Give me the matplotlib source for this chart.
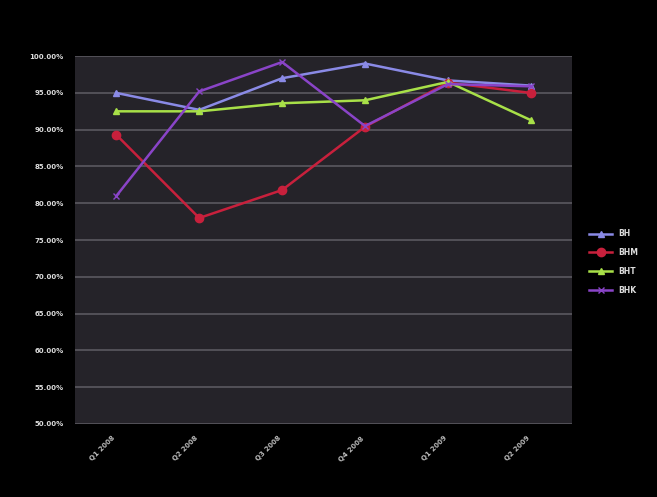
import matplotlib
matplotlib.use("Agg")
import matplotlib.pyplot as plt

categories = ["Q1 2008", "Q2 2008", "Q3 2008", "Q4 2008", "Q1 2009", "Q2 2009"]
series_names = ["BH", "BHM", "BHT", "BHK"]
s_bh = [95.0, 92.7, 97.0, 99.0, 96.7, 96.0]
s_bhm = [89.3, 78.0, 81.8, 90.4, 96.4, 95.0]
s_bht = [92.5, 92.5, 93.6, 94.0, 96.5, 91.3]
s_bhk = [81.0, 95.2, 99.2, 90.5, 96.2, 95.9]
y_ticks = [50, 55, 60, 65, 70, 75, 80, 85, 90, 95, 100]

colors = ["#8a8ae6", "#c8203c", "#a8e048", "#8a44c8"]
markers = ["^", "o", "^", "x"]
msizes = [4, 6, 5, 4]

fig = plt.figure(figsize=(6.57, 4.97), dpi=100, facecolor="black")
ax = fig.add_axes([0.114, 0.147, 0.757, 0.740])
ax.set_facecolor("#252329")

x = list(range(len(categories)))
for name, vals, c, m, ms in zip(series_names, [s_bh, s_bhm, s_bht, s_bhk], colors, markers, msizes):
    ax.plot(x, vals, color=c, marker=m, markersize=ms, linewidth=1.8, label=name)

ax.set_xlim(-0.5, len(categories) - 0.5)
ax.set_ylim(50, 100)
ax.set_yticks(y_ticks)
ax.set_yticklabels([f"{v:.2f}%" for v in y_ticks], color="#dddddd", fontsize=5, fontweight="bold")
ax.set_xticks(x)
ax.set_xticklabels(categories, rotation=45, ha="right", color="#bbbbbb", fontsize=5, fontweight="bold")
ax.tick_params(length=0, pad=8)
ax.grid(axis="y", color="#5a5860", linewidth=1.2)
ax.set_axisbelow(True)
for sp in ax.spines.values():
    sp.set_visible(False)

leg = ax.legend(loc="center left", bbox_to_anchor=(1.02, 0.44), frameon=False,
                labelcolor="#dddddd", handlelength=3, labelspacing=1.3,
                prop={"weight": "bold", "size": 5.5})

fig.savefig("out.png", dpi=100, facecolor="black")
